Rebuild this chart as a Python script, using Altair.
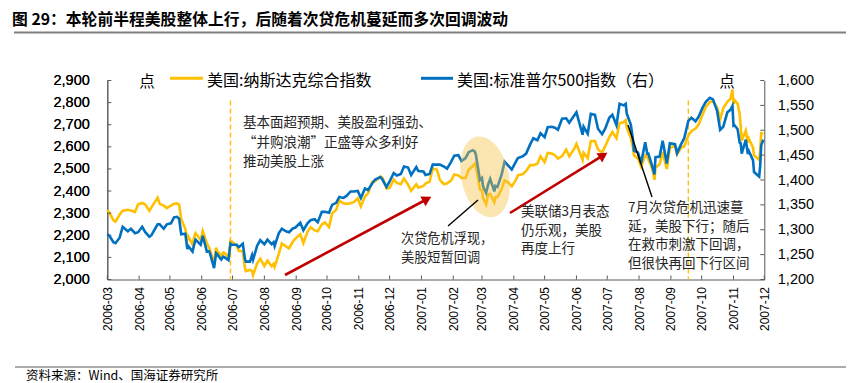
import altair as alt
import pandas as pd

# ---------------- data ----------------
dates_2006 = ["03-01","03-03","03-07","03-09","03-13","03-16","03-21","03-24","03-28","03-31",
              "04-04","04-07","04-11","04-13","04-19","04-21","04-25","04-28",
              "05-02","05-05","05-08","05-10","05-12","05-16","05-18","05-19","05-23","05-25","05-26","05-31",
              "06-02","06-06","06-08","06-09","06-13","06-15","06-16","06-20","06-22","06-23","06-27","06-29","06-30",
              "07-05","07-07","07-11","07-13","07-14","07-18","07-20","07-21","07-25","07-28",
              "08-01","08-04","08-08","08-10","08-11","08-15","08-18","08-22","08-25","08-29","08-31",
              "09-05","09-08","09-12","09-15","09-19","09-22","09-26","09-29",
              "10-03","10-06","10-10","10-13","10-17","10-20","10-24","10-27","10-31",
              "11-03","11-07","11-10","11-14","11-17","11-22","11-24","11-28",
              "12-01","12-05","12-08","12-12","12-15","12-19","12-22","12-27","12-29"]
nasdaq_2006 = [2314,2302,2268,2262,2294,2311,2315,2312,2305,2340,
               2346,2339,2311,2326,2370,2342,2334,2323,
               2334,2343,2344,2338,2273,2229,2180,2193,2158,2199,2210,2178,
               2219,2163,2145,2135,2073,2144,2130,2107,2122,2121,2101,2174,2172,
               2153,2130,2128,2054,2038,2043,2039,2020,2073,2094,
               2061,2085,2060,2071,2057,2115,2163,2150,2141,2173,2184,
               2205,2165,2216,2236,2222,2218,2249,2258,
               2237,2299,2315,2357,2345,2342,2345,2350,2367,
               2330,2375,2390,2442,2445,2465,2460,2412,
               2414,2452,2437,2431,2457,2429,2401,2431,2415]
sp500_2006 = [1291,1288,1275,1273,1284,1306,1297,1302,1293,1295,
              1306,1295,1286,1289,1311,1311,1302,1311,
              1313,1325,1326,1322,1291,1292,1261,1267,1256,1273,1280,1270,
              1288,1256,1257,1253,1223,1253,1251,1240,1246,1245,1239,1272,1270,
              1270,1265,1272,1242,1236,1236,1249,1240,1268,1279,
              1271,1280,1271,1275,1267,1293,1302,1297,1295,1303,1304,
              1314,1299,1313,1319,1321,1315,1336,1336,
              1334,1350,1354,1366,1364,1368,1377,1377,1378,
              1364,1383,1380,1393,1401,1406,1401,1386,
              1397,1414,1409,1412,1427,1425,1410,1426,1418]

dates_2007 = ["01-03","01-05","01-09","01-12","01-16","01-19","01-23","01-26","01-30",
              "02-02","02-06","02-09","02-13","02-16","02-20","02-22","02-23","02-27",
              "03-01","03-02","03-05","03-07","03-09","03-13","03-14","03-16","03-20","03-23","03-27","03-30",
              "04-03","04-05","04-10","04-13","04-17","04-20","04-24","04-27",
              "05-01","05-04","05-08","05-11","05-14","05-18","05-22","05-25","05-30",
              "06-01","06-07","06-08","06-12","06-15","06-19","06-22","06-26","06-29",
              "07-03","07-06","07-10","07-13","07-17","07-19","07-20","07-24","07-26","07-27","07-31",
              "08-03","08-07","08-09","08-10","08-14","08-16","08-17","08-21","08-24","08-28","08-31",
              "09-05","09-07","09-11","09-14","09-18","09-21","09-25","09-28",
              "10-02","10-05","10-09","10-12","10-16","10-19","10-22","10-26","10-29","10-31",
              "11-01","11-02","11-05","11-07","11-08","11-09","11-13","11-15","11-16","11-20","11-21",
              "11-26","11-27","11-28","11-30"]
nasdaq_2007 = [2423,2434,2443,2502,2497,2451,2431,2435,2448,
               2475,2471,2459,2459,2496,2513,2524,2515,2407,
               2404,2368,2340,2385,2387,2350,2371,2373,2408,2448,2437,2421,
               2450,2471,2477,2491,2518,2517,2524,2557,
               2531,2572,2570,2562,2547,2558,2588,2557,2592,
               2613,2541,2573,2549,2626,2626,2588,2574,2603,
               2644,2667,2639,2707,2712,2720,2688,2640,2600,2562,2546,
               2511,2561,2556,2544,2499,2451,2505,2521,2576,2500,2596,
               2605,2566,2597,2602,2651,2671,2683,2701,
               2747,2780,2803,2805,2779,2725,2774,2804,2817,2859,
               2794,2811,2795,2748,2696,2627,2674,2619,2637,2596,2562,
               2541,2580,2662,2661]
sp500_2007 = [1417,1410,1412,1431,1431,1431,1427,1423,1437,
              1449,1450,1438,1444,1456,1460,1457,1451,1400,
              1404,1387,1374,1391,1402,1377,1388,1386,1410,1437,1428,1421,
              1437,1444,1448,1453,1472,1484,1480,1494,
              1486,1506,1507,1505,1501,1523,1524,1515,1530,
              1536,1491,1507,1493,1533,1531,1503,1492,1503,
              1525,1531,1510,1553,1550,1553,1534,1511,1482,1459,1455,
              1434,1476,1453,1453,1427,1411,1446,1447,1479,1433,1474,
              1472,1454,1472,1484,1519,1525,1518,1527,
              1546,1557,1565,1562,1539,1501,1507,1536,1541,1549,
              1509,1510,1502,1475,1474,1453,1481,1452,1458,1440,1416,
              1407,1429,1470,1481]

month_ticks = ["2006-03","2006-04","2006-05","2006-06","2006-07","2006-08","2006-09","2006-10",
               "2006-11","2006-12","2007-01","2007-02","2007-03","2007-04","2007-05","2007-06",
               "2007-07","2007-08","2007-09","2007-10","2007-11","2007-12"]
left_ticks = [2000,2100,2200,2300,2400,2500,2600,2700,2800,2900]
right_ticks = [1200,1250,1300,1350,1400,1450,1500,1550,1600]
event_dates = ["2006-06-29","2007-09-18"]
event_top = 2810
ellipse_center = ("2007-03-04", 2464)

name_nasdaq = "美国:纳斯达克综合指数"
name_sp = "美国:标准普尔500指数（右）"
title_text = "图 29：本轮前半程美股整体上行，后随着次贷危机蔓延而多次回调波动"
source_text = "资料来源：Wind、国海证券研究所"
note1 = ["基本面超预期、美股盈利强劲、", "“并购浪潮”正盛等众多利好", "推动美股上涨"]
note2 = ["次贷危机浮现，", "美股短暂回调"]
note3 = ["美联储3月表态", "仍乐观，美股", "再度上行"]
note4 = ["7月次贷危机迅速蔓", "延，美股下行；随后", "在救市刺激下回调，", "但很快再回下行区间"]

# ---------------- tables ----------------
dates = ["2006-" + d for d in dates_2006] + ["2007-" + d for d in dates_2007]
df = pd.DataFrame({
    "date": [d + "T00:00:00" for d in dates],
    "nasdaq": nasdaq_2006 + nasdaq_2007,
    "sp500": sp500_2006 + sp500_2007,
})
months_df = pd.DataFrame({"m": [m + "-01T00:00:00" for m in month_ticks]})
left_df = pd.DataFrame({"v": left_ticks})
right_df = pd.DataFrame({"v": right_ticks})
events_df = pd.DataFrame({"d": [d + "T00:00:00" for d in event_dates],
                          "top": [event_top] * len(event_dates), "bot": [left_ticks[0]] * len(event_dates)})
ellipse_df = pd.DataFrame({"d": [ellipse_center[0] + "T00:00:00"], "v": [ellipse_center[1]]})
one = pd.DataFrame({"a": [0]})

W, H = 657, 199
CJK = "Noto Sans CJK SC"
NUM = "Liberation Sans"
YELLOW = "#FFC000"
BLUE = "#0070C0"
RED = "#C00000"

x_dom = [alt.DateTime(year=2006, month=3, date=1), alt.DateTime(year=2007, month=12, date=1)]
x_axis = alt.Axis(values=[alt.DateTime(year=int(m[:4]), month=int(m[5:]), date=1) for m in month_ticks],
                  format="%Y-%m", labelAngle=270, labelFont=NUM, labelFontSize=12, labelColor="#000",
                  labelPadding=7, ticks=False, domainColor="#595959", domainWidth=1, title=None,
                  grid=False, labelOverlap=False, labelBound=False, labelFlush=False)
x_scale = alt.Scale(domain=x_dom)

left_scale = alt.Scale(domain=[2000, 2900], nice=False, zero=False)
left_axis = alt.Axis(values=left_ticks, format=",.0f", labelFont=NUM, labelFontSize=14.5, labelColor="#000",
                     labelPadding=18, ticks=False, domainColor="#595959", domainWidth=1, title=None,
                     grid=False, orient="left", labelBound=False, labelFlush=False)
right_scale = alt.Scale(domain=[1200, 1600], nice=False, zero=False)
right_axis = alt.Axis(values=right_ticks, format=",.0f", labelFont=NUM, labelFontSize=14.5, labelColor="#000",
                      labelPadding=13, ticks=False, domainColor="#595959", domainWidth=1, title=None,
                      grid=False, orient="right", labelBound=False, labelFlush=False)


def X(field):
    return alt.X(field, type="temporal", scale=x_scale, axis=x_axis)


def YL(field):
    return alt.Y(field, type="quantitative", scale=left_scale, axis=left_axis)


def YR(field):
    return alt.Y(field, type="quantitative", scale=right_scale, axis=right_axis)


def text_at(txt, x, y, size=14, color="#262626", weight="normal", font=CJK):
    return alt.Chart(one).mark_text(text=txt, align="left", baseline="middle", fontSize=size,
                                    font=font, color=color, fontWeight=weight).encode(
        x=alt.value(x), y=alt.value(y))


def rule_px(x1, y1, x2, y2, color, width, dash=None):
    kw = dict(color=color, strokeWidth=width)
    if dash:
        kw["strokeDash"] = dash
    return alt.Chart(one).mark_rule(**kw).encode(
        x=alt.value(x1), y=alt.value(y1), x2=alt.value(x2), y2=alt.value(y2))


# ---------------- layers on the left scale ----------------
nasdaq_line = alt.Chart(df).mark_line(color=YELLOW, strokeWidth=2.6).encode(x=X("date"), y=YL("nasdaq"))
events = alt.Chart(events_df).mark_rule(color=YELLOW, strokeWidth=1.4, strokeDash=[5, 3]).encode(
    x=X("d"), y=YL("top"), y2="bot")
left_tick_marks = alt.Chart(left_df).mark_rule(color="#595959", strokeWidth=1).encode(
    y=YL("v"), x=alt.value(0), x2=alt.value(4))
x_tick_marks = alt.Chart(months_df).mark_rule(color="#595959", strokeWidth=1).encode(
    x=X("m"), y=alt.value(H), y2=alt.value(H - 4))

ellipse_path = "M0,-1 A0.58,1 0 1,1 0,1 A0.58,1 0 1,1 0,-1 Z"
ellipse = alt.Chart(ellipse_df).mark_point(shape=ellipse_path, filled=True, fill="#F5C242", opacity=0.42,
                                           size=6724, angle=348, strokeWidth=0).encode(x=X("d"), y=YL("v"))

left_group = alt.layer(events, nasdaq_line, left_tick_marks, x_tick_marks)

# ---------------- layers on the right scale ----------------
sp_line = alt.Chart(df).mark_line(color=BLUE, strokeWidth=2.6).encode(x=X("date"), y=YR("sp500"))
right_tick_marks = alt.Chart(right_df).mark_rule(color="#595959", strokeWidth=1).encode(
    y=YR("v"), x=alt.value(W), x2=alt.value(W - 4))
right_group = alt.layer(sp_line, right_tick_marks)

# ---------------- annotations (pixel positions) ----------------
annots = []
# arrows
annots.append(rule_px(177.7, 194.5, 319.0, 119.0, RED, 2.6))
annots.append(alt.Chart(one).mark_point(shape="triangle-up", filled=True, color=RED, size=120, angle=62,
                                        opacity=1).encode(x=alt.value(319.8), y=alt.value(118.6)))
annots.append(rule_px(402.7, 132.5, 495.0, 75.4, RED, 2.6))
annots.append(alt.Chart(one).mark_point(shape="triangle-up", filled=True, color=RED, size=120, angle=58,
                                        opacity=1).encode(x=alt.value(496.0), y=alt.value(74.8)))
# leader lines
annots.append(rule_px(340.7, 145.5, 370.7, 119.5, "#000", 1.4))
annots.append(rule_px(520.7, 44.5, 544.7, 116.5, "#000", 1.4))

# notes
for i, t in enumerate(note1):
    annots.append(text_at(t, 135.7, 42.5 + i * 19.5, size=13.5))
for i, t in enumerate(note2):
    annots.append(text_at(t, 293.7, 158.5 + i * 19.0, size=13.2))
for i, t in enumerate(note3):
    annots.append(text_at(t, 413.7, 131.5 + i * 18.5, size=13.5))
for i, t in enumerate(note4):
    annots.append(text_at(t, 520.7, 127.5 + i * 18.5, size=13.5))

# legend and unit labels
annots.append(text_at("点", 32.0, 1.5, size=15.5, color="#000"))
annots.append(rule_px(62.7, -2.2, 95.7, -2.2, YELLOW, 3))
annots.append(text_at(name_nasdaq, 99.7, 0.0, size=16, color="#000"))
annots.append(rule_px(313.7, -2.2, 345.7, -2.2, BLUE, 3))
annots.append(text_at(name_sp, 349.7, 0.0, size=16, color="#000"))
annots.append(text_at("点", 612.0, 1.5, size=15.5, color="#000"))

# title, rules and source
annots.append(text_at(title_text, -95.3, -60.8, size=15.8, color="#000", weight="bold"))
annots.append(rule_px(-93.3, -48.0, 738.7, -48.0, "#7F7F7F", 2))
annots.append(rule_px(-92.3, 286.5, 738.7, 286.5, "#595959", 1))
annots.append(text_at(source_text, -81.3, 295.0, size=12.5, color="#000"))

chart = alt.layer(left_group, right_group, ellipse, *annots).resolve_scale(y="independent").properties(
    width=W, height=H,
    autosize=alt.AutoSizeParams(type="none"),
    padding={"left": 99.3, "top": 72.5, "right": 81.7, "bottom": 103.5},
    background="white",
).configure_view(stroke=None)

chart.save("out.html", embed_options={"renderer": "svg", "actions": False})
